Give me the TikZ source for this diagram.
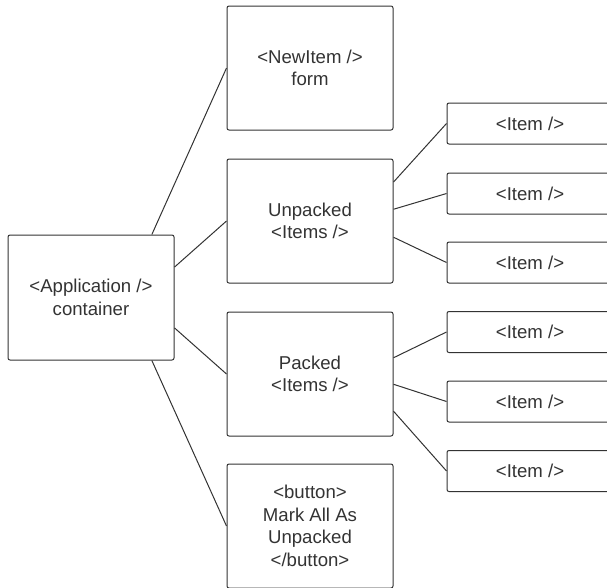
\documentclass[tikz,border=0pt]{standalone}
\usepackage{fontspec}
\setmainfont{Liberation Sans}
\usepackage{xcolor}
\usepackage{tikz}
\usetikzlibrary{positioning}

\definecolor{linegray}{HTML}{333333}

\tikzset{
    compbox/.style={draw=linegray, line width=1pt, rounded corners=2pt,
        minimum width=166pt, minimum height=124pt, align=center,
        text=linegray, font=\fontsize{18.6}{22.5}\selectfont, inner sep=0pt},
    itembox/.style={compbox, minimum height=41pt},
    link/.style={draw=linegray, line width=1pt}
}

\begin{document}
\begin{tikzpicture}[x=1pt, y=-1pt]
    % Khung của hình
    \useasboundingbox (0,0) rectangle (607,587);

    % Thành phần gốc
    \node[compbox, minimum height=125pt] (app) at (91,297.5) {<Application />\\container};

    % Các thành phần con
    \node[compbox] (newitem)  at (310,68)  {<NewItem />\\form};
    \node[compbox] (unpacked) at (310,221) {Unpacked\\<Items />};
    \node[compbox] (packed)   at (310,374) {Packed\\<Items />};
    \node[compbox] (button)   at (310,526) {<button>\\Mark All As\\Unpacked\\</button>};

    % Các mục <Item />
    \node[itembox] (item1) at (530,123.5) {<Item />};
    \node[itembox] (item2) at (530,193.5) {<Item />};
    \node[itembox] (item3) at (530,262.5) {<Item />};
    \node[itembox] (item4) at (530,332)   {<Item />};
    \node[itembox] (item5) at (530,401.5) {<Item />};
    \node[itembox] (item6) at (530,471)   {<Item />};

    % Nối gốc với các thành phần con
    \draw[link] (app.46)  -- (newitem.west);
    \draw[link] (app.20)  -- (unpacked.west);
    \draw[link] (app.-20) -- (packed.west);
    \draw[link] (app.-46) -- (button.west);

    % Nối danh sách với các mục
    \draw[link] (unpacked.25)  -- (item1.west);
    \draw[link] (unpacked.8)   -- (item2.west);
    \draw[link] (unpacked.-11) -- (item3.west);
    \draw[link] (packed.11)  -- (item4.west);
    \draw[link] (packed.-7)  -- (item5.west);
    \draw[link] (packed.-24) -- (item6.west);
\end{tikzpicture}
\end{document}
